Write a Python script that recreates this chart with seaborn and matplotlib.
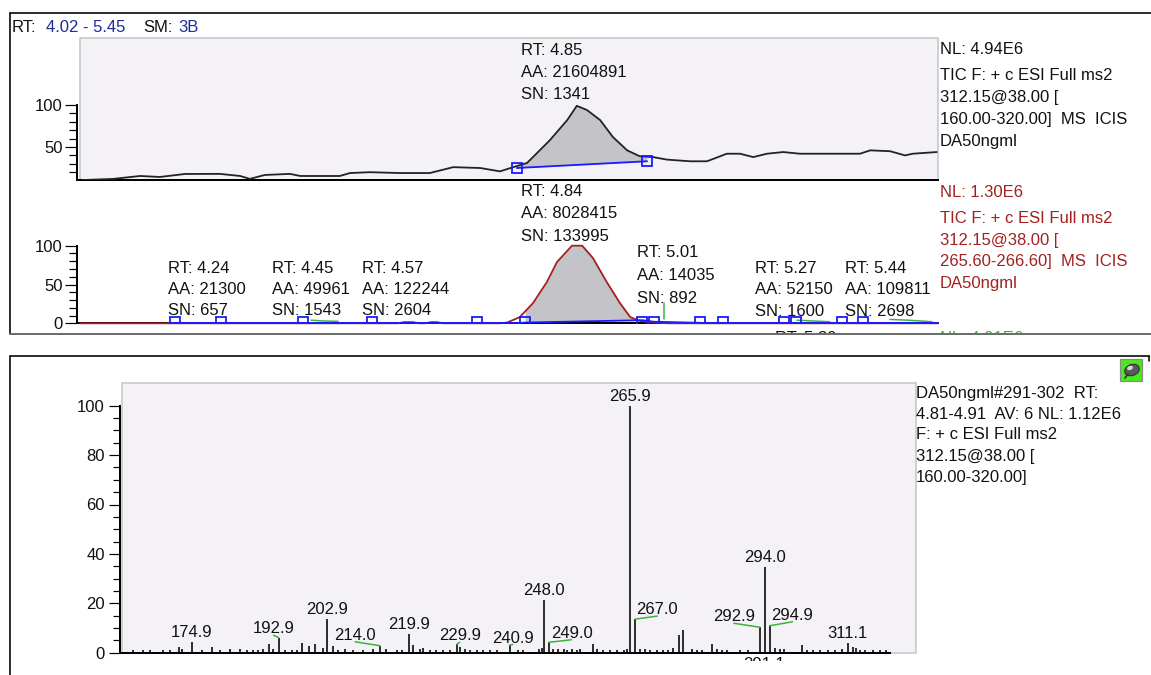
import numpy as np
import matplotlib
matplotlib.use("Agg")
import matplotlib.pyplot as plt
import seaborn as sns
from matplotlib.patches import Rectangle, Ellipse
from matplotlib.transforms import Bbox, TransformedBbox

# ---------------- data ----------------
# TIC chromatogram (relative abundance vs retention time, min)
tic_rt = [4.025, 4.075, 4.12, 4.153, 4.195, 4.253, 4.287, 4.303, 4.328, 4.37, 4.387,
          4.453, 4.47, 4.503, 4.553, 4.603, 4.642, 4.687, 4.72, 4.742, 4.765, 4.775,
          4.803, 4.832, 4.848, 4.865, 4.887, 4.908, 4.932, 4.953, 4.975, 4.998, 5.037,
          5.065, 5.098, 5.12, 5.142, 5.165, 5.192, 5.22, 5.32, 5.337, 5.37, 5.395,
          5.408, 5.448]
tic_rel = [10.7, 12, 15.5, 14.3, 17.9, 18, 15.5, 12, 16.7, 18, 15.5,
           15.5, 19, 20, 19, 19, 26, 25, 21, 26, 31, 38,
           58, 82, 99, 94, 82, 62, 46, 39, 38, 35, 33,
           33, 42, 42, 38, 42, 44, 42, 42, 46, 45, 40,
           42, 44]
tic_bounds_rt = [4.748, 4.965]
tic_bounds_rel = [25, 33]

# Extracted ion chromatogram m/z 265.60-266.60
xic_rt = [4.02, 4.55, 4.56, 4.575, 4.585, 4.595, 4.605, 4.615, 4.625, 4.72, 4.732,
          4.753, 4.775, 4.798, 4.815, 4.84, 4.857, 4.875, 4.898, 4.92, 4.937, 4.953,
          4.975, 5.0, 5.45]
xic_rel = [0, 0, 1.5, 1.5, 0, 0, 1.5, 1.5, 0, 0, 1,
           8, 26, 53, 79, 100, 100, 84, 53, 26, 8, 3,
           1, 0, 0]
xic_bounds_rt = [4.178, 4.255, 4.392, 4.507, 4.682, 4.762, 4.957, 4.977, 5.053,
                 5.092, 5.193, 5.213, 5.29, 5.325]
xic_baseline_rt = [4.17, 4.755, 4.762, 4.957, 4.977, 5.06, 5.45]
xic_baseline_rel = [0.5, 0.5, 1.0, 4.0, 2.0, 0.5, 0.5]
xic_fill_rt = [4.762, 4.957]

# neighbouring trace (NL 4.91E6) that reaches into this pane
third_segments = [
    ([4.405, 4.425, 4.45], [4.0, 3.0, 2.5]),
    ([4.993, 4.993], [5.0, 26.0]),
    ([5.215, 5.24, 5.27], [4.0, 3.0, 2.0]),
    ([5.37, 5.40, 5.44], [5.0, 4.0, 2.0]),
]

# integrated peaks of the extracted ion chromatogram
xic_peak_rt = ["4.24", "4.45", "4.57", "4.84", "5.01", "5.27", "5.44"]
xic_peak_aa = ["21300", "49961", "122244", "8028415", "14035", "52150", "109811"]
xic_peak_sn = ["657", "1543", "2604", "133995", "892", "1600", "2698"]
tic_peak = ("4.85", "21604891", "1341")

# MS2 spectrum: labelled peaks
label_mz = [174.9, 192.9, 202.9, 214.0, 219.9, 229.9, 240.9, 248.0, 249.0,
            265.9, 267.0, 292.9, 294.0, 294.9, 311.1]
label_int = [4.2, 6.1, 13.6, 2.8, 7.6, 3.4, 3.1, 21.3, 4.2,
             100.0, 13.6, 10.3, 34.8, 10.9, 3.8]
# MS2 spectrum: unlabelled peaks
minor_mz = [162.7, 164.7, 166.2, 168.9, 170.3, 172.1, 172.8, 176.9, 179.0, 180.7,
            182.8, 184.9, 186.3, 187.6, 188.7, 189.7, 190.8, 191.8, 194.2, 195.6,
            196.7, 197.8, 199.3, 200.5, 202.1, 204.1, 205.3, 206.7, 208.4, 210.5,
            212.6, 215.2, 217.4, 218.5, 220.9, 222.3, 223.0, 224.3, 225.7, 227.1,
            228.5, 230.6, 231.6, 232.7, 234.1, 235.4, 236.8, 238.2, 242.7, 243.7,
            247.1, 247.6, 250.0, 251.0, 252.1, 252.8, 253.8, 254.8, 255.5, 258.3,
            259.0, 260.4, 261.8, 263.2, 264.6, 265.3, 268.0, 269.0, 270.1, 271.5,
            272.8, 273.9, 274.9, 276.0, 276.9, 278.7, 279.8, 280.8, 282.9, 283.9,
            285.0, 286.0, 288.8, 290.5, 296.1, 297.0, 297.9, 301.6, 302.6, 304.0,
            305.4, 307.1, 308.5, 309.9, 312.3, 312.8, 313.7, 314.7, 316.4, 317.8,
            319.2]
minor_int = [1.0, 1.0, 1.0, 1.0, 1.0, 2.4, 1.5, 1.0, 2.4, 1.0,
             1.3, 1.5, 1.0, 1.0, 1.0, 1.5, 3.4, 1.5, 1.0, 1.0,
             1.0, 4.0, 2.7, 3.4, 1.8, 2.7, 1.0, 1.3, 1.0, 1.0,
             1.3, 1.3, 1.0, 1.0, 3.0, 1.5, 2.0, 1.0, 1.0, 1.0,
             1.0, 2.4, 1.5, 1.0, 1.0, 1.0, 1.0, 1.0, 1.0, 1.0,
             1.5, 2.0, 1.5, 1.5, 1.5, 1.0, 1.5, 1.0, 1.5, 3.5,
             1.5, 1.0, 1.0, 1.0, 1.2, 1.5, 1.5, 1.5, 1.0, 1.0,
             1.0, 1.0, 2.0, 7.2, 9.2, 1.5, 1.0, 1.0, 3.5, 1.5,
             1.0, 1.0, 1.0, 1.0, 2.0, 1.5, 1.5, 3.0, 1.0, 1.0,
             1.0, 1.0, 1.0, 1.5, 2.5, 2.0, 1.0, 1.0, 1.0, 1.0,
             1.0]

# ---------------- style ----------------
W, H = 1151, 675
PT = 0.72            # points per pixel at 100 dpi
FS = 12
BLACK = "#111111"
BLUE_TXT = "#1f2a9c"
RED = "#a3201f"
MARK_BLUE = "#1a1aff"
GREEN = "#3cb43c"
PANE = "#f4f2f6"
FILL = "#c4c3c7"

sns.set_theme(style="white")
plt.rcParams["font.family"] = ["Liberation Sans", "DejaVu Sans"]
plt.rcParams["text.color"] = BLACK

fig = plt.figure(figsize=(W / 100, H / 100), dpi=100)
fig.patch.set_facecolor("white")


def px_axes(x0, y0, x1, y1, **kw):
    return fig.add_axes([x0 / W, 1 - y1 / H, (x1 - x0) / W, (y1 - y0) / H], **kw)


def style_axis(ax, major_len, minor_len, pad, left_out, ybounds, xbounds, boxed):
    for s in ("top", "right"):
        ax.spines[s].set_visible(False)
    ax.spines["left"].set_position(("outward", left_out * PT))
    ax.spines["left"].set_bounds(*ybounds)
    ax.spines["bottom"].set_bounds(*xbounds)
    for s in ("left", "bottom"):
        ax.spines[s].set_color("black")
        ax.spines[s].set_linewidth(2 * PT)
    ax.tick_params(axis="y", which="major", direction="out", left=True,
                   length=major_len * PT, width=1.2 * PT, color="black",
                   labelsize=FS, labelcolor=BLACK, pad=pad * PT)
    ax.tick_params(axis="y", which="minor", direction="out", left=True,
                   length=minor_len * PT, width=1.2 * PT, color="black")
    ax.tick_params(axis="x", which="both", bottom=False, labelbottom=False)
    ax.set_xlabel("")
    ax.set_ylabel("")
    if boxed:
        ax.set_facecolor(PANE)
        ax.add_patch(Rectangle((0, 0), 1, 1, transform=ax.transAxes, fill=False,
                               ec="#c4c4c4", lw=1.5 * PT, zorder=0.6, clip_on=False))
    else:
        ax.patch.set_alpha(0)


# ---------------- TIC pane ----------------
ax1 = px_axes(80, 38, 938, 180)
sns.lineplot(x=tic_rt, y=tic_rel, ax=ax1, color="#222222", lw=1.3,
             estimator=None, sort=False, zorder=3)
lo, hi = tic_bounds_rt
fill_x = [lo] + [r for r in tic_rt if lo < r < hi] + [hi]
ax1.fill_between(fill_x, np.interp(fill_x, tic_bounds_rt, tic_bounds_rel),
                 np.interp(fill_x, tic_rt, tic_rel), color=FILL, lw=0, zorder=1.5)
ax1.plot(tic_bounds_rt, tic_bounds_rel, color=MARK_BLUE, lw=1.3, zorder=3.2)
ax1.plot(tic_bounds_rt, tic_bounds_rel, ls="none", marker="s", ms=7.5,
         mfc="none", mec=MARK_BLUE, mew=1.3, zorder=3.3)
ax1.set_xlim(4.02, 5.45)
ax1.set_ylim((189 - 180) / 0.84, (189 - 38) / 0.84)
ax1.set_yticks([50, 100])
ax1.set_yticks([20, 30, 40, 60, 70, 80, 90], minor=True)
style_axis(ax1, 12, 8, 2, 3, ((189 - 180) / 0.84, 100), (4.02 - 3 / 600, 5.45), True)

# ---------------- extracted ion chromatogram pane ----------------
ax2 = px_axes(80, 183, 938, 323.3)
lo, hi = xic_fill_rt
fill_x = [lo] + [r for r in xic_rt if lo < r < hi] + [hi]
ax2.fill_between(fill_x, np.interp(fill_x, xic_baseline_rt, xic_baseline_rel),
                 np.interp(fill_x, xic_rt, xic_rel), color=FILL, lw=0, zorder=1.5)
for seg_x, seg_y in third_segments:
    ax2.plot(seg_x, seg_y, color=GREEN, lw=1.1, zorder=2.8, clip_on=False)
sns.lineplot(x=xic_rt, y=xic_rel, ax=ax2, color=RED, lw=1.3,
             estimator=None, sort=False, zorder=3)
for line in ax2.lines:
    line.set_clip_on(False)
ax2.plot(xic_baseline_rt, xic_baseline_rel, color=MARK_BLUE, lw=1.3, zorder=3.2,
         clip_on=False)
ax2.plot(xic_bounds_rt, [1.5] * len(xic_bounds_rt), ls="none", marker="s", ms=7.5,
         mfc="none", mec=MARK_BLUE, mew=1.3, zorder=3.3)
ax2.set_xlim(4.02, 5.45)
ax2.set_ylim(0, 140.3 / 0.776)
ax2.set_yticks([0, 50, 100])
ax2.set_yticks([10, 20, 30, 40, 60, 70, 80, 90], minor=True)
style_axis(ax2, 12, 8, 2, 3, (0, 100), (4.02 - 3 / 600, 5.45), False)

# ---------------- MS2 spectrum pane ----------------
SPEC_X0, SPEC_X1, SPEC_Y0, SPEC_Y1 = 122, 916, 383, 652.7
MZ_LIM = (160.36, 325.33)
INT_TOP = (SPEC_Y1 - SPEC_Y0) / 2.47
ax3 = px_axes(SPEC_X0, SPEC_Y0, SPEC_X1, SPEC_Y1)
ax3.set_xlim(*MZ_LIM)
ax3.set_ylim(0, INT_TOP)
all_mz = label_mz + minor_mz
all_int = label_int + minor_int
ax3.vlines(all_mz, 0, all_int, colors="black", lw=1.15, zorder=3)
ax3.set_yticks([0, 20, 40, 60, 80, 100])
ax3.set_yticks([v for v in range(5, 100, 5) if v % 20], minor=True)
style_axis(ax3, 11, 7, 4, 2, (0, 100), (MZ_LIM[0], 320), True)

px_per_mz = (SPEC_X1 - SPEC_X0) / (MZ_LIM[1] - MZ_LIM[0])
px_per_int = (SPEC_Y1 - SPEC_Y0) / INT_TOP
label_shift = {"192.9": (-5, 10.4), "214.0": (-25, 12), "229.9": (3, 10),
               "240.9": (3, 8.5), "249.0": (23, 10.6), "267.0": (22, 11),
               "292.9": (-26, 12), "294.9": (23, 12)}
for mz, inten in zip(label_mz, label_int):
    txt = f"{mz:.1f}"
    dx, dy = label_shift.get(txt, (0, 11))
    ax3.annotate(txt, xy=(mz, inten), xytext=(dx, dy - 6), textcoords="offset pixels",
                 ha="center", va="baseline", fontsize=FS, color=BLACK, zorder=4)
    if txt in label_shift:
        ax3.plot([mz, mz + dx / px_per_mz], [inten, inten + (dy - 8) / px_per_int],
                 color=GREEN, lw=1.1, zorder=3.5)

# ---------------- frames, headers and annotations (pixel canvas) ----------------
cv = fig.add_axes([0, 0, 1, 1], zorder=10)
cv.set_xlim(0, W)
cv.set_ylim(H, 0)
cv.axis("off")
cv.patch.set_alpha(0)

cv.plot([10, W], [13, 13], color="black", lw=1.6 * PT)
cv.plot([10, 10], [13, 334], color="black", lw=1.6 * PT)
cv.plot([10, W], [334, 334], color="#6e6e6e", lw=2 * PT)
cv.plot([10, 1149], [356, 356], color="black", lw=1.6 * PT)
cv.plot([10, 10], [356, H], color="black", lw=1.6 * PT)
cv.plot([1149, 1149], [356, 361], color="black", lw=1.6 * PT)

# pin button in the spectrum pane corner
cv.add_patch(Rectangle((1120, 359), 22, 22, fc="#4be81e", ec="#8a8a8a", lw=1.2 * PT))
cv.add_patch(Ellipse((1132, 370), 15, 11, angle=-20, fc="#5a5a5a", ec="#303030", lw=0.8))
cv.add_patch(Ellipse((1130, 368), 6, 4, angle=-20, fc="#d8d8d8", ec="none"))
cv.plot([1125, 1128], [378, 374], color="#303030", lw=1.2)

BASE = 6  # cap centre to baseline, px


def put(x, y, s, color=BLACK, clip=None, **kw):
    t = cv.text(x, y + BASE, s, color=color, fontsize=FS, ha="left", va="baseline", **kw)
    if clip is not None:
        t.set_clip_box(TransformedBbox(Bbox(clip), cv.transData))
        t.set_clip_on(True)
    return t


put(12, 26, "RT:")
put(46, 26, "4.02 - 5.45", color=BLUE_TXT)
put(143, 26, "SM:")
put(178, 26, "3B", color=BLUE_TXT)

# TIC peak annotation
for y, s in zip([49, 71, 93], [f"RT: {tic_peak[0]}", f"AA: {tic_peak[1]}", f"SN: {tic_peak[2]}"]):
    put(521, y, s)

tic_header = ["NL: 4.94E6", "TIC F: + c ESI Full ms2", "312.15@38.00 [",
              "160.00-320.00]  MS  ICIS", "DA50ngml"]
for y, s in zip([48, 74, 96, 118, 140], tic_header):
    put(940, y, s)

# extracted ion chromatogram peak annotations
xic_label_x = [168, 272, 362, 521, 637, 755, 845]
xic_label_y = [[267, 288, 309]] * 3 + [[190, 212, 235], [251, 274, 297]] + [[267, 288, 310]] * 2
for x, ys, rt, aa, sn in zip(xic_label_x, xic_label_y, xic_peak_rt, xic_peak_aa, xic_peak_sn):
    for y, s in zip(ys, [f"RT: {rt}", f"AA: {aa}", f"SN: {sn}"]):
        put(x, y, s)

xic_header = ["NL: 1.30E6", "TIC F: + c ESI Full ms2", "312.15@38.00 [",
              "265.60-266.60]  MS  ICIS", "DA50ngml"]
for y, s in zip([191, 217, 239, 260, 282], xic_header):
    put(940, y, s, color=RED)

# items of the next pane, cut off by the frame
pane_clip = [[10, 13], [W, 333]]
put(775, 337, "RT: 5.30", clip=pane_clip)
put(940, 337, "NL: 4.91E6", color=GREEN, clip=pane_clip)

spec_header = ["DA50ngml#291-302  RT:", "4.81-4.91  AV: 6 NL: 1.12E6",
               "F: + c ESI Full ms2", "312.15@38.00 [", "160.00-320.00]"]
for y, s in zip([392, 413, 433, 455, 476], spec_header):
    put(916, y, s)
put(743, 663, "291.1", clip=[[10, 356], [W, 661]])

fig.savefig("out.png", dpi=100, facecolor="white")
